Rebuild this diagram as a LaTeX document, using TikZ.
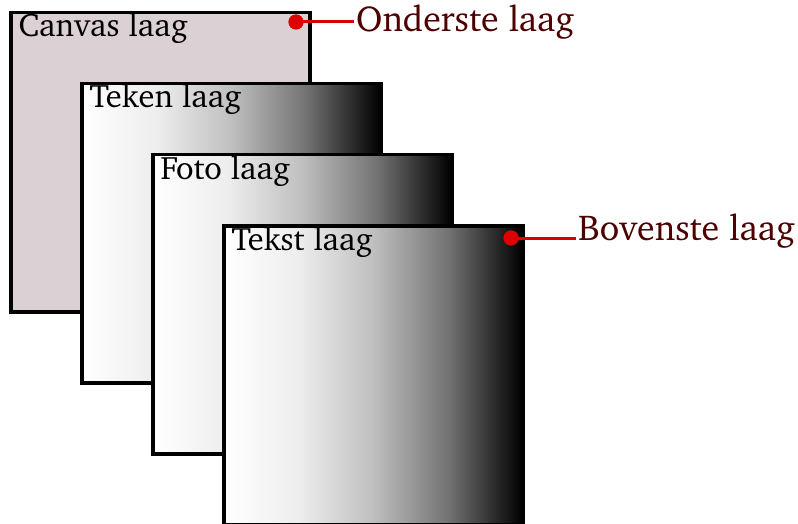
\documentclass[tikz,border=0pt]{standalone}
\usepackage[T1]{fontenc}
\usepackage{charter}
\definecolor{canvasfill}{RGB}{219,208,212}
\definecolor{dotred}{RGB}{221,0,0}
\definecolor{labelred}{RGB}{77,0,0}
\pgfdeclarehorizontalshading{layershade}{100bp}{color(0bp)=(white); color(25bp)=(white); color(37.5bp)=(black!7); color(50bp)=(black!25); color(62.5bp)=(black!55); color(75bp)=(black); color(100bp)=(black)}
\tikzset{
  layer/.style={draw=black, line width=3.5pt, minimum size=299pt, inner sep=0pt, anchor=north west},
  gradlayer/.style={layer, shading=layershade},
  layertext/.style={anchor=base west, inner sep=0pt, font=\fontsize{32.5}{38}\selectfont},
  dot/.style={circle, fill=dotred, inner sep=0pt, minimum size=15pt},
  lead/.style={draw=dotred, line width=3pt},
  sidelabel/.style={anchor=west, inner sep=2pt, text=labelred, font=\fontsize{36}{42}\selectfont}
}
\begin{document}
\begin{tikzpicture}[x=1pt,y=-1pt]
\useasboundingbox (0,0) rectangle (798,524);
\node[layer, fill=canvasfill] (l1) at (9,11) {};
\node[gradlayer] (l2) at (80,82) {};
\node[gradlayer] (l3) at (151,153) {};
\node[gradlayer] (l4) at (222,224) {};
\node[layertext] (t1) at (18.5,37) {Canvas laag};
\node[layertext] (t2) at (89.5,108) {Teken laag};
\node[layertext] (t3) at (160.5,179) {Foto laag};
\node[layertext] (t4) at (231.5,250) {Tekst laag};
\node[dot] (d1) at (296,22) {};
\node[dot] (d2) at (511,238) {};
\node[sidelabel] (o) at (354,22) {Onderste laag};
\node[sidelabel] (b) at (576,231) {Bovenste laag};
\draw[lead] (d1.center) -- (o.west);
\draw[lead] (d2.center) -- (d2.center -| b.west);
\node[dot] at (d1) {};
\node[dot] at (d2) {};
\end{tikzpicture}
\end{document}
